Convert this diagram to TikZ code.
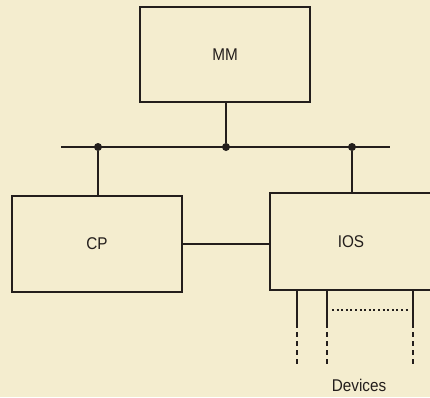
\documentclass[tikz,border=0pt]{standalone}
\usepackage{fontspec}
\setmainfont{Liberation Sans}
\definecolor{paper}{RGB}{244,237,207}
\definecolor{ink}{RGB}{35,30,28}
\begin{document}
\begin{tikzpicture}[x=1pt,y=-1pt,
  box/.style={draw=ink,line width=1.6pt,fill=paper,inner sep=0pt,font=\fontsize{17}{20}\selectfont,text=ink},
  wire/.style={draw=ink,line width=2.8pt},
  junct/.style={circle,fill=ink,inner sep=0pt,minimum size=8pt},
  dev/.style={draw=ink,line width=2.6pt,dash pattern=on 5pt off 4pt},
  lbl/.style={font=\fontsize{17}{20}\selectfont,text=ink,inner sep=0pt}]
\fill[paper] (0,0) rectangle (430,397);
\useasboundingbox (0,0) rectangle (430,397);
\node[box,minimum width=170pt,minimum height=95pt] (mm) at (225,54.5) {\scalebox{0.9}[1]{MM}};
\node[box,minimum width=170pt,minimum height=96pt] (cp) at (97,244) {\scalebox{0.9}[1]{CP}};
\node[box,minimum width=162pt,minimum height=97pt] (ios) at (351,241.5) {\scalebox{0.9}[1]{IOS}};
\coordinate (busl) at (61,147);
\coordinate (busr) at (390,147);
\draw[wire] (busl) -- (busr);
\node[junct] (j1) at (98,147) {};
\node[junct] (j2) at (226,147) {};
\node[junct] (j3) at (352,147) {};
\draw[wire] (mm.south -| j2) -- (j2);
\draw[wire] (j1) -- (cp.north -| j1);
\draw[wire] (j3) -- (ios.north -| j3);
\draw[wire] (cp.east) -- (ios.west |- cp.east);
% devices
\coordinate (d1a) at (297,290); \coordinate (d1b) at (297,323); \coordinate (d1c) at (297,366);
\coordinate (d2a) at (327,290); \coordinate (d2b) at (327,323); \coordinate (d2c) at (327,366);
\coordinate (d3a) at (413,290); \coordinate (d3b) at (413,323); \coordinate (d3c) at (413,366);
\draw[wire] (d1a) -- (d1b); \draw[dev] (d1b) -- (d1c);
\draw[wire] (d2a) -- (d2b); \draw[dev] (d2b) -- (d2c);
\draw[wire] (d3a) -- (d3b); \draw[dev] (d3b) -- (d3c);
\coordinate (dotl) at (332,310); \coordinate (dotr) at (409,310);
\draw[draw=ink,line width=2.4pt,dash pattern=on 2pt off 2.6pt] (dotl) -- (dotr);
\node[lbl] (devlbl) at (359,385) {\scalebox{0.9}[1]{Devices}};
\end{tikzpicture}
\end{document}
